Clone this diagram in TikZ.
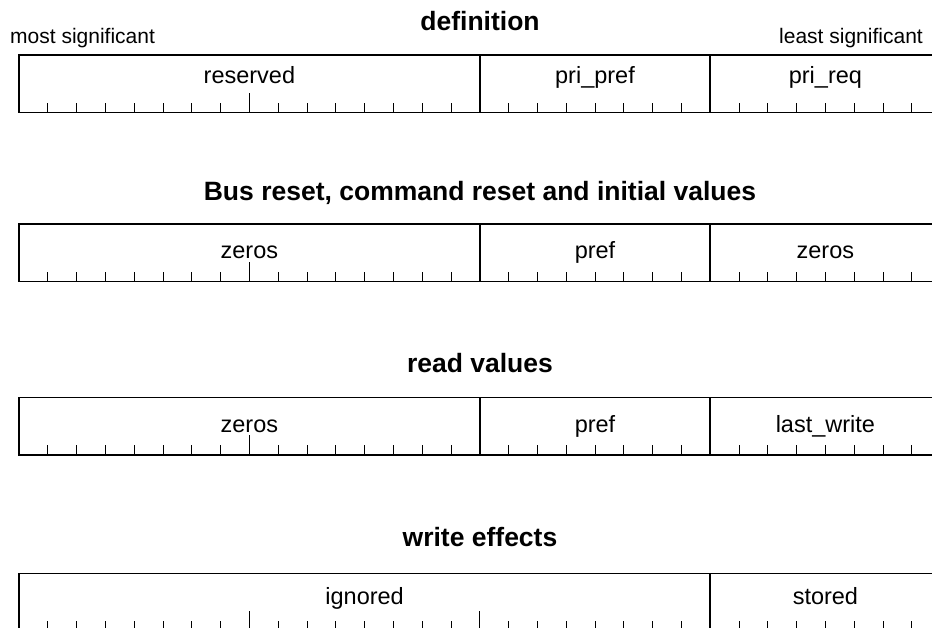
\documentclass[tikz,border=0pt]{standalone}
\usepackage{fontspec}
\setmainfont{Liberation Sans}
\begin{document}
\begin{tikzpicture}[x=1pt,y=-1pt,
  box/.style={line width=1.5pt},
  bittick/.style={line width=0.9pt},
  field/.style={font=\fontsize{23.5}{28}\selectfont, anchor=base, inner sep=0pt},
  title/.style={font=\fontsize{26.5}{32}\selectfont\bfseries, anchor=base, inner sep=0pt},
  sig/.style={font=\fontsize{21}{25}\selectfont, inner sep=0pt}]
\useasboundingbox (0,0) rectangle (932,627);
\clip (0,0) rectangle (932,627);
\def\bitw{28.8}
\def\xorg{19}
\def\rowh{57.7}
\newcommand\regrow[3]{%
  \foreach \i in {1,...,31} \draw[bittick] (\xorg+\i*\bitw,#1+\rowh) -- ++(0,-10);
  \foreach \i in {#3} \draw[bittick] (\xorg+\i*\bitw,#1+\rowh) -- ++(0,-20);
  \foreach \i in {#2} \draw[box] (\xorg+\i*\bitw,#1) -- ++(0,\rowh);
  \draw[box] (\xorg,#1) rectangle (\xorg+32*\bitw,#1+\rowh);
}
% row 1
\node[title] (t1) at (480,30) {definition};
\node[sig, anchor=base west] (ms) at (10,43) {most significant};
\node[sig, anchor=base east] (ls) at (923,43) {least significant};
\regrow{55}{16,24}{8}
\node[field] (f1a) at (249.4,83) {reserved};
\node[field] (f1b) at (595,83) {pri\_pref};
\node[field] (f1c) at (825.4,83) {pri\_req};
% row 2
\node[title] (t2) at (480,200) {Bus reset, command reset and initial values};
\regrow{224}{16,24}{8}
\node[field] (f2a) at (249.4,258.5) {zeros};
\node[field] (f2b) at (595,258.5) {pref};
\node[field] (f2c) at (825.4,258.5) {zeros};
% row 3
\node[title] (t3) at (480,372) {read values};
\regrow{397.3}{16,24}{8}
\node[field] (f3a) at (249.4,432) {zeros};
\node[field] (f3b) at (595,432) {pref};
\node[field] (f3c) at (825.4,432) {last\_write};
% row 4
\node[title] (t4) at (480,546) {write effects};
\regrow{573.3}{24}{8,16}
\node[field] (f4a) at (364.6,604) {ignored};
\node[field] (f4b) at (825.4,604) {stored};
\end{tikzpicture}
\end{document}
